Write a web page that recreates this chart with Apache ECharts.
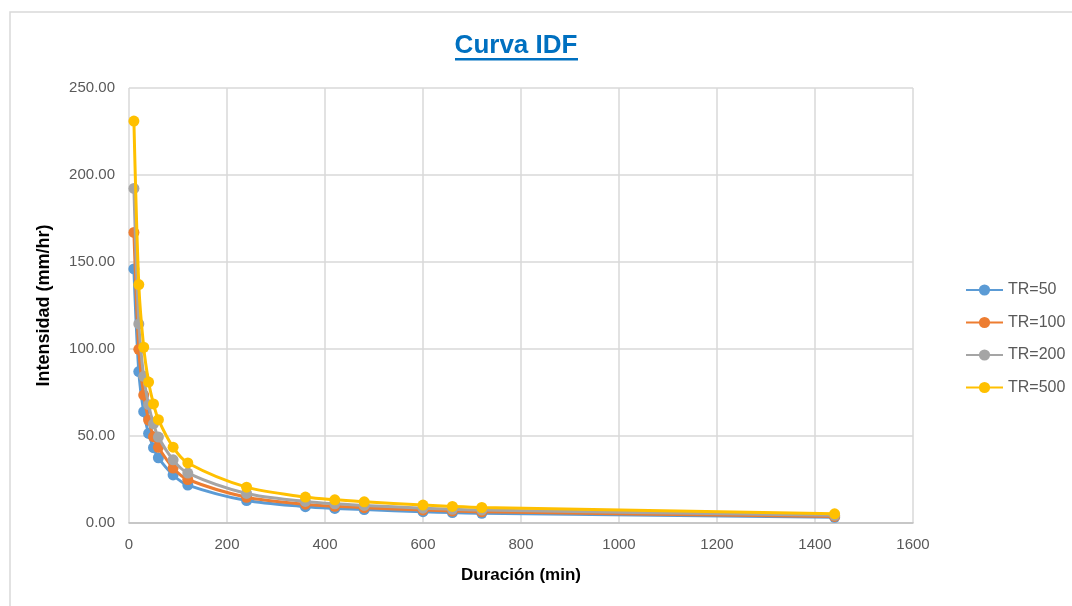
<!DOCTYPE html>
<html>
<head>
<meta charset="utf-8">
<script src="https://cdn.jsdelivr.net/npm/echarts@6/dist/echarts.min.js"></script>
<style>
html,body{margin:0;padding:0;background:#fff;}
#chart{width:1072px;height:606px;}
</style>
</head>
<body>
<div id="chart"></div>
<script>
const durations = [10, 20, 30, 40, 50, 60, 90, 120, 240, 360, 420, 480, 600, 660, 720, 1440];
const tr50  = [146.0, 87.0, 64.0, 51.5, 43.3, 37.5, 27.6, 21.8, 12.9, 9.4, 8.4, 7.7, 6.5, 6.0, 5.6, 3.3];
const tr100 = [167.0, 99.8, 73.5, 59.2, 49.6, 43.5, 31.6, 25.0, 14.8, 10.8, 9.6, 8.8, 7.4, 6.9, 6.4, 3.8];
const tr200 = [192.3, 114.4, 84.3, 68.0, 57.0, 49.4, 36.3, 28.7, 17.0, 12.4, 11.0, 10.1, 8.5, 7.9, 7.4, 4.4];
const tr500 = [231.0, 137.0, 101.0, 81.0, 68.4, 59.4, 43.6, 34.5, 20.6, 14.9, 13.3, 12.2, 10.3, 9.5, 8.9, 5.3];
const seriesNames = ['TR=50', 'TR=100', 'TR=200', 'TR=500'];
const seriesValues = [tr50, tr100, tr200, tr500];
const colors = ['#5B9BD5', '#ED7D31', '#A5A5A5', '#FFC000'];
const titleText = 'Curva IDF';
const xTitle = 'Duración (min)';
const yTitle = 'Intensidad (mm/hr)';

const FONT = '"Liberation Sans", Arial, sans-serif';
const chart = echarts.init(document.getElementById('chart'));

const series = seriesNames.map((name, i) => ({
  name: name,
  type: 'line',
  smooth: 0.3,
  symbol: 'circle',
  symbolSize: 11,
  color: colors[i],
  lineStyle: { width: 3, color: colors[i] },
  itemStyle: { color: colors[i] },
  data: durations.map((d, k) => [d, seriesValues[i][k]]),
  z: 2 + i
}));

chart.setOption({
  backgroundColor: '#ffffff',
  animation: false,
  textStyle: { fontFamily: FONT },
  graphic: [
    { type: 'rect', shape: { x: 10, y: 12, width: 1200, height: 800 },
      style: { fill: 'none', stroke: '#d9d9d9', lineWidth: 1.5 }, silent: true, z: -10 },
    { type: 'text', x: 516, y: 46,
      style: { text: titleText, fill: '#0070C0', font: 'bold 26px ' + FONT,
               textAlign: 'center', textVerticalAlign: 'middle' } },
    { type: 'rect', shape: { x: 455, y: 58, width: 123, height: 2.5 },
      style: { fill: '#0070C0' } }
  ],
  legend: {
    orient: 'vertical',
    left: 960,
    top: 277,
    itemWidth: 37,
    itemHeight: 14,
    itemGap: 16.5,
    textStyle: { fontSize: 16, color: '#595959', fontFamily: FONT },
    data: seriesNames
  },
  grid: { left: 129, right: 159, top: 88, bottom: 83, containLabel: false },
  xAxis: {
    type: 'value',
    min: 0, max: 1600, interval: 200,
    name: xTitle,
    nameLocation: 'middle',
    nameGap: 44,
    nameTextStyle: { fontSize: 17, fontWeight: 'bold', color: '#000', fontFamily: FONT },
    axisLine: { show: true, lineStyle: { color: '#bfbfbf', width: 1.5 } },
    axisTick: { show: false },
    axisLabel: { fontSize: 15, color: '#595959', margin: 14, fontFamily: FONT,
                 formatter: v => String(v) },
    splitLine: { show: true, lineStyle: { color: '#d9d9d9', width: 1.5 } }
  },
  yAxis: {
    type: 'value',
    min: 0, max: 250, interval: 50,
    name: yTitle,
    nameLocation: 'middle',
    nameGap: 76,
    nameTextStyle: { fontSize: 18, fontWeight: 'bold', color: '#000', fontFamily: FONT },
    axisLine: { show: false },
    axisTick: { show: false },
    axisLabel: { fontSize: 15, color: '#595959', margin: 14, fontFamily: FONT,
                 formatter: v => v.toFixed(2) },
    splitLine: { show: true, lineStyle: { color: '#d9d9d9', width: 1.5 } }
  },
  series: series
});
</script>
</body>
</html>
